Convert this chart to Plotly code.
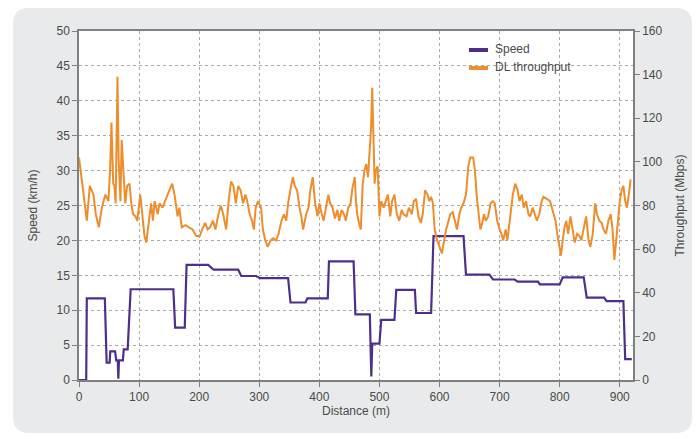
import plotly.graph_objects as go

# ---- data -------------------------------------------------------------
# Vehicle speed along the route (step profile), distance in m, speed in km/h
speed_dist = [0, 12, 13, 43, 46, 51, 52, 60, 62, 64.5, 65.5, 66.5, 73, 74.5, 81, 86,
              157, 160, 176, 179, 215, 224, 265, 270, 295, 301, 348, 352, 377, 380,
              414, 416, 457, 460, 484, 486.5, 488, 500, 503, 525, 528, 559, 561, 586,
              590, 640, 644, 683, 689, 725, 730, 764, 767, 800, 805, 840, 845, 874,
              878, 906, 909, 920]
speed_kmh = [0, 0, 11.7, 11.7, 2.5, 2.5, 4.1, 4.1, 2.8, 2.8, 0.2, 2.8, 2.8, 4.4, 4.4, 13.0,
             13.0, 7.5, 7.5, 16.5, 16.5, 15.8, 15.8, 14.9, 14.9, 14.6, 14.6, 11.1, 11.1, 11.7,
             11.7, 17.0, 17.0, 9.4, 9.4, 0.5, 5.2, 5.2, 8.6, 8.6, 12.9, 12.9, 9.6, 9.6,
             20.6, 20.6, 15.1, 15.1, 14.4, 14.4, 14.1, 14.1, 13.7, 13.7, 14.7, 14.7, 11.8, 11.8,
             11.3, 11.3, 3.0, 3.0]

# Downlink throughput along the route, distance in m, throughput in Mbps
tput_dist = [0, 4, 9, 13, 18, 24, 28, 33, 38, 44, 49, 52, 54, 57, 59, 61, 64, 66, 69, 71,
             74, 77, 80, 84, 87, 90, 94, 97, 102, 105, 109, 112, 115, 120, 123, 126, 131,
             134, 139, 143, 149, 155, 159, 164, 167, 171, 177, 183, 189, 195, 201, 205,
             210, 214, 218, 223, 227, 232, 236, 240, 245, 249, 253, 257, 261, 265, 269,
             273, 277, 280, 284, 288, 291, 294, 298, 303, 306, 310, 314, 319, 323, 328,
             332, 337, 341, 345, 348, 353, 356, 359, 363, 367, 370, 373, 378, 382, 385,
             389, 393, 397, 400, 404, 407, 411, 415, 418, 422, 426, 430, 433, 437, 441,
             444, 448, 452, 455, 459, 461, 463, 466, 469, 472, 475, 478, 481, 483, 486,
             488, 490, 492, 494, 497, 500, 503, 507, 511, 514, 518, 521, 525, 529, 533,
             537, 540, 545, 549, 554, 557, 561, 565, 569, 572, 576, 580, 583, 586, 589,
             592, 596, 600, 604, 607, 611, 615, 618, 622, 626, 629, 633, 636, 640, 644,
             648, 651, 656, 659, 662, 665, 668, 671, 674, 677, 681, 685, 689, 692, 696,
             700, 703, 706, 710, 713, 718, 722, 726, 730, 733, 737, 740, 744, 748, 751,
             755, 759, 762, 766, 770, 773, 778, 784, 790, 793, 796, 799, 802, 805, 808,
             811, 814, 818, 822, 825, 829, 833, 836, 840, 844, 848, 851, 855, 859, 862,
             866, 870, 873, 877, 881, 885, 888, 891, 894, 897, 900, 903, 906, 909, 912,
             915, 918]
tput_mbps = [102, 92, 82, 73, 89, 85, 76, 70, 79, 85, 82, 98, 118, 90, 89, 81, 139, 101, 82, 110,
             92, 81, 89, 90, 81, 76, 75, 73, 85, 76, 66, 63, 70, 81, 73, 82, 76,
             81, 79, 82, 86, 90, 85, 75, 79, 70, 71, 70, 69, 66, 66, 69,
             72, 69, 70, 73, 69, 76, 80, 76, 69, 82, 91, 89, 81, 89, 87,
             81, 85, 82, 76, 73, 69, 79, 82, 79, 69, 64, 61, 64, 65, 64,
             67, 73, 76, 73, 81, 89, 93, 89, 87, 79, 75, 69, 76, 79, 87,
             93, 81, 75, 81, 76, 73, 79, 85, 81, 79, 74, 78, 73, 78, 76,
             73, 79, 81, 88, 93, 82, 76, 72, 69, 89, 96, 99, 93, 102, 115,
             134, 102, 90, 96, 98, 75, 82, 79, 82, 85, 75, 82, 85, 76, 73,
             78, 76, 75, 79, 76, 82, 83, 75, 72, 76, 87, 85, 82, 84, 81,
             69, 64, 61, 58, 63, 69, 73, 76, 77, 73, 69, 76, 79, 81, 85,
             98, 102, 102, 96, 84, 75, 69, 72, 76, 73, 75, 81, 82, 81, 73,
             69, 67, 64, 69, 64, 75, 85, 90, 87, 82, 85, 79, 82, 76, 75,
             79, 76, 73, 76, 82, 84, 83, 82, 76, 73, 67, 61, 57, 64, 70,
             73, 67, 75, 67, 63, 67, 66, 64, 69, 75, 64, 61, 67, 81, 76,
             73, 72, 69, 67, 73, 76, 69, 55, 64, 76, 82, 87, 89, 82, 79,
             85, 92]

x_ticks = [0, 100, 200, 300, 400, 500, 600, 700, 800, 900]
speed_ticks = [0, 5, 10, 15, 20, 25, 30, 35, 40, 45, 50]
tput_ticks = [0, 20, 40, 60, 80, 100, 120, 140, 160]

# ---- styling -------------------------------------------------------------
W, H = 696, 439
L, R, T, B = 79, 633, 31, 380          # plot area in pixels
FONT = "Liberation Sans, Arial, sans-serif"
TXT = "#4a4a4a"
AXIS = "#808080"
GRID = "#a8a8a8"
PURPLE = "#4e2f8c"
ORANGE = "#ee8d2c"


def px_x(p):
    return (p - L) / (R - L)


def px_y(p):
    return (B - p) / (B - T)


def rounded_rect(x0, y0, x1, y1, r):
    """Rounded rectangle path in paper coordinates from pixel corners."""
    rx = r / (R - L)
    ry = r / (B - T)
    a, b = px_x(x0), px_x(x1)
    top, bot = px_y(y0), px_y(y1)
    return (f"M {a + rx},{top} L {b - rx},{top} Q {b},{top} {b},{top - ry} "
            f"L {b},{bot + ry} Q {b},{bot} {b - rx},{bot} "
            f"L {a + rx},{bot} Q {a},{bot} {a},{bot + ry} "
            f"L {a},{top - ry} Q {a},{top} {a + rx},{top} Z")


fig = go.Figure()

fig.add_trace(go.Scatter(
    x=tput_dist, y=tput_mbps, mode="lines", name="DL throughput",
    line=dict(color=ORANGE, width=2), yaxis="y2", showlegend=False))

fig.add_trace(go.Scatter(
    x=speed_dist, y=speed_kmh, mode="lines", name="Speed",
    line=dict(color=PURPLE, width=2.2), showlegend=False))

shapes = [
    # grey rounded panel behind the chart
    dict(type="path", xref="paper", yref="paper", layer="below",
         path=rounded_rect(13, 8, 692, 433, 16),
         fillcolor="#e8eaeb", line=dict(width=0)),
    # white plotting area
    dict(type="rect", xref="paper", yref="paper", layer="below",
         x0=0, x1=1, y0=0, y1=1, fillcolor="white", line=dict(width=0)),
    # legend keys
    dict(type="line", xref="paper", yref="paper",
         x0=px_x(469), x1=px_x(488), y0=px_y(50), y1=px_y(50),
         line=dict(color=PURPLE, width=4)),
    dict(type="line", xref="paper", yref="paper",
         x0=px_x(469), x1=px_x(488), y0=px_y(68), y1=px_y(68),
         line=dict(color=ORANGE, width=4)),
]

annotations = [
    dict(text="Speed", xref="paper", yref="paper", x=px_x(493), y=px_y(49),
         xanchor="left", yanchor="middle", showarrow=False,
         font=dict(family=FONT, size=12, color=TXT)),
    dict(text="DL throughput", xref="paper", yref="paper", x=px_x(493), y=px_y(67),
         xanchor="left", yanchor="middle", showarrow=False,
         font=dict(family=FONT, size=12, color=TXT)),
]

axis_common = dict(
    showline=True, linecolor=AXIS, linewidth=1.5,
    ticks="outside", ticklen=5, tickcolor=AXIS, tickwidth=1,
    tickfont=dict(family=FONT, size=12, color=TXT),
    zeroline=False,
)

fig.update_layout(
    width=W, height=H, autosize=False,
    margin=dict(l=L, r=W - R, t=T, b=H - B, pad=0),
    paper_bgcolor="white", plot_bgcolor="rgba(0,0,0,0)",
    font=dict(family=FONT, size=12, color=TXT),
    shapes=shapes, annotations=annotations,
    xaxis=dict(
        range=[0, 922], tickvals=x_ticks, mirror=True,
        showgrid=True, gridcolor=GRID, griddash="dot", gridwidth=1,
        title=dict(text="Distance (m)", standoff=2,
                   font=dict(family=FONT, size=12, color=TXT)),
        **axis_common),
    yaxis=dict(
        range=[0, 50], tickvals=speed_ticks,
        showgrid=True, gridcolor=GRID, griddash="dot", gridwidth=1,
        title=dict(text="Speed (km/h)", standoff=16,
                   font=dict(family=FONT, size=12, color=TXT)),
        **axis_common),
    yaxis2=dict(
        range=[0, 160], tickvals=tput_ticks, overlaying="y", side="right",
        showgrid=False,
        title=dict(text="Throughput (Mbps)", standoff=14,
                   font=dict(family=FONT, size=12, color=TXT)),
        **axis_common),
)

fig.write_html("out.html")
